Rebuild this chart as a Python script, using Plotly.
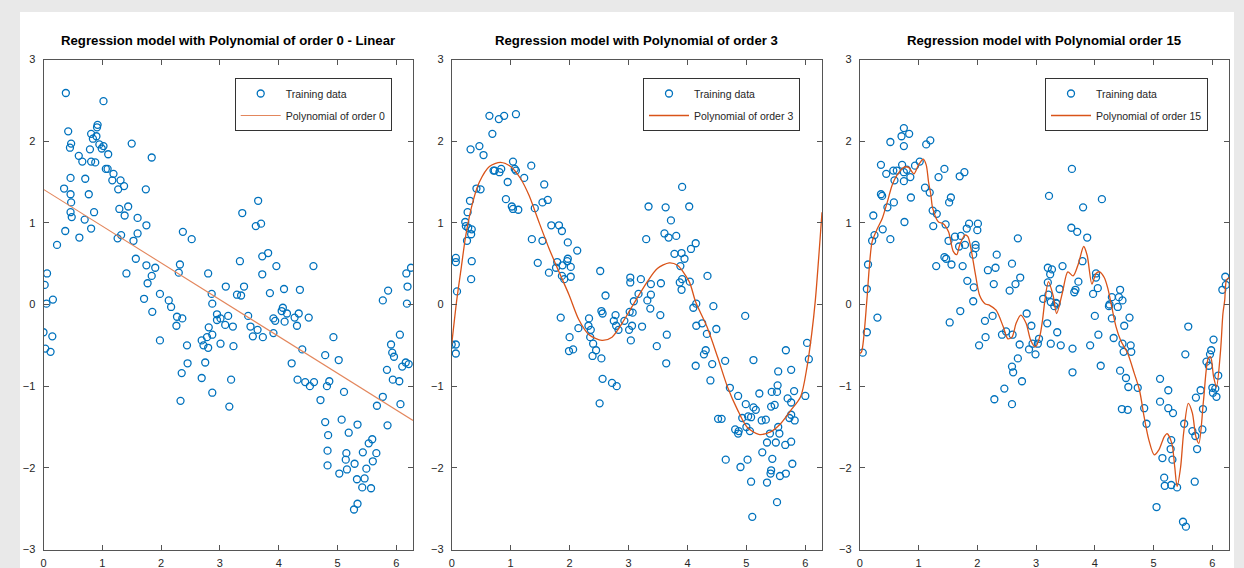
import numpy as np
import plotly.graph_objects as go

# ---------------- data ----------------
train1_x = [0.38,1.02,0.42,0.92,0.91,0.81,0.90,0.84,0.47,0.45,0.95,1.02,0.99,0.79,1.50,0.60,1.10,1.84,0.66,0.81,
            0.88,1.06,1.09,1.19,0.46,0.71,1.17,1.31,1.37,1.27,0.35,0.77,0.46,1.74,0.47,1.29,1.44,0.86,0.46,0.48,
            1.38,1.60,0.70,1.75,0.37,0.81,1.32,1.26,0.61,1.60,1.53,2.37,2.52,0.23,1.57,1.75,1.90,2.32,2.30,2.80,
            1.41,1.84,1.77,0.06,0.02,1.98,2.13,1.71,2.86,2.87,3.10,0.16,0.05,
            3.65,3.38,3.61,3.70,3.82,3.72,3.34,3.96,4.59,3.72,3.41,3.29,3.36,3.85,4.09,4.36,5.86,5.77,6.17,6.25,
            6.19,6.18,
            2.17,1.85,2.27,2.36,2.26,2.95,3.01,2.95,3.09,2.81,2.87,2.69,2.78,2.72,2.80,3.01,2.44,1.98,2.45,2.75,
            2.35,2.69,2.87,2.33,0.00,0.15,0.03,0.12,3.16,
            3.14,3.22,3.23,3.19,3.48,3.52,3.56,3.64,3.73,3.91,3.91,3.94,4.07,4.05,4.14,4.10,4.27,4.34,4.31,4.51,
            4.40,4.22,4.32,4.45,4.53,4.60,4.79,4.93,5.02,4.86,4.82,4.71,5.11,4.79,5.07,4.84,5.19,5.34,4.83,5.15,
            5.14,4.83,5.03,5.16,5.29,5.43,5.53,5.59,5.66,5.60,5.49,5.33,5.46,5.42,5.57,5.34,5.28,6.06,5.91,5.93,
            5.96,5.84,5.94,6.05,6.16,6.10,6.21,5.77,5.67,6.07,5.85]
train1_y = [2.59,2.49,2.12,2.20,2.17,2.09,2.06,2.03,1.97,1.92,1.96,1.94,1.91,1.90,1.97,1.82,1.84,1.80,1.75,1.75,
            1.74,1.66,1.66,1.60,1.55,1.54,1.52,1.52,1.45,1.41,1.42,1.35,1.35,1.41,1.25,1.17,1.20,1.13,1.13,1.07,
            1.09,1.06,1.04,0.97,0.90,0.93,0.85,0.81,0.82,0.87,0.78,0.89,0.80,0.73,0.56,0.48,0.45,0.49,0.39,0.38,
            0.38,0.35,0.26,0.38,0.24,0.13,0.05,0.07,0.13,0.01,0.22,0.06,0.01,
            1.27,1.12,0.96,0.99,0.63,0.59,0.53,0.47,0.47,0.37,0.22,0.12,0.11,0.14,0.19,0.18,0.17,0.05,0.38,0.45,
            0.22,0.01,
            -0.03,-0.09,-0.15,-0.17,-0.26,-0.12,-0.17,-0.19,-0.25,-0.28,-0.37,-0.44,-0.40,-0.50,-0.53,-0.48,-0.50,-0.44,-0.72,-0.71,
            -0.84,-0.90,-1.08,-1.18,-0.34,-0.39,-0.54,-0.58,-1.25,
            -0.14,-0.27,-0.51,-0.92,-0.14,-0.27,-0.39,-0.31,-0.40,-0.35,-0.17,-0.20,-0.04,-0.08,-0.11,-0.21,-0.16,-0.11,-0.26,-0.16,
            -0.55,-0.72,-0.92,-0.95,-1.00,-0.95,-0.62,-0.40,-0.68,-0.94,-1.00,-1.17,-1.07,-1.44,-1.41,-1.60,-1.57,-1.47,-1.79,-1.82,
            -1.90,-1.97,-2.07,-2.02,-1.95,-1.81,-1.70,-1.65,-1.82,-1.92,-2.01,-2.14,-2.13,-2.24,-2.25,-2.44,-2.51,-0.37,-0.49,-0.59,
            -0.64,-0.80,-0.92,-0.94,-0.71,-0.76,-0.73,-1.13,-1.24,-1.22,-1.48]

train2_x = [0.64,0.80,0.89,1.09,0.69,0.47,0.32,0.54,1.04,0.71,0.73,0.81,0.84,1.07,1.09,1.35,1.23,0.95,1.57,0.42,
            0.49,0.92,0.31,1.54,1.63,1.41,1.02,1.04,1.13,0.27,0.23,0.24,0.28,0.34,0.33,0.26,1.69,1.82,1.87,1.97,
            2.13,1.36,1.54,1.46,1.65,1.77,1.79,1.88,1.97,1.96,2.02,1.87,1.91,2.02,0.34,0.33,0.07,0.07,0.09,2.52,
            2.61,3.03,3.03,
            3.91,3.34,3.63,4.03,3.72,3.30,3.61,3.68,3.81,3.78,3.90,3.95,4.14,4.06,3.88,4.34,3.21,3.38,3.55,3.87,
            3.91,4.04,3.90,3.17,3.38,3.32,3.09,4.15,4.44,
            0.00,0.07,0.07,1.85,2.00,1.99,2.06,2.15,2.33,2.32,2.36,2.35,2.40,2.45,2.39,2.54,2.54,2.56,2.75,2.78,
            2.79,2.83,2.93,3.01,3.02,2.56,2.72,2.80,2.51,3.04,
            3.37,3.07,3.06,3.23,3.54,3.65,3.48,3.64,4.10,4.15,4.25,4.33,4.49,4.31,4.28,4.14,4.42,4.39,4.64,4.98,
            4.72,4.86,4.99,5.12,5.12,5.16,5.03,5.08,4.93,5.00,4.52,4.58,4.81,4.87,4.86,5.06,5.22,5.26,5.33,5.35,
            5.40,5.50,5.56,5.54,5.42,5.48,5.43,5.52,5.53,5.54,5.67,5.76,5.70,5.76,5.81,5.73,5.82,5.76,5.66,5.76,
            5.27,5.44,4.65,4.90,5.02,5.42,5.41,5.57,5.67,5.78,5.08,5.35,5.52,5.10,6.00,6.03,6.06]
train2_y = [2.31,2.27,2.31,2.33,2.09,1.94,1.90,1.83,1.75,1.64,1.64,1.62,1.66,1.66,1.64,1.70,1.55,1.50,1.47,1.42,
            1.41,1.29,1.27,1.25,1.28,1.18,1.20,1.17,1.16,1.13,1.01,0.96,0.94,0.92,0.86,0.78,0.97,0.97,0.90,0.76,
            0.66,0.80,0.78,0.51,0.39,0.45,0.52,0.48,0.56,0.53,0.46,0.35,0.31,0.34,0.53,0.31,0.57,0.52,0.16,0.41,
            0.11,0.33,0.27,
            1.44,1.20,1.19,1.20,1.03,0.80,0.87,0.82,0.84,0.62,0.63,0.56,0.75,0.68,0.47,0.35,0.31,0.25,0.26,0.27,
            0.31,0.28,0.18,0.13,0.12,0.05,0.04,0.01,-0.02,
            -0.49,-0.49,-0.60,-0.16,-0.40,-0.57,-0.55,-0.29,-0.17,-0.26,-0.31,-0.40,-0.48,-0.56,-0.63,-0.66,-0.08,-0.11,-0.20,-0.13,
            -0.26,-0.31,-0.20,-0.31,-0.09,-0.91,-0.96,-1.00,-1.21,-0.44,
            -0.05,-0.10,-0.26,-0.27,-0.13,-0.37,-0.51,-0.72,-0.04,-0.26,-0.23,-0.36,-0.30,-0.56,-0.61,-0.75,-0.73,-0.93,-0.69,-0.14,
            -1.02,-1.12,-1.22,-0.68,-1.26,-1.29,-1.37,-1.38,-1.39,-1.50,-1.40,-1.40,-1.53,-1.55,-1.58,-1.55,-1.09,-1.42,-1.41,-1.69,
            -1.58,-1.69,-1.58,-1.50,-1.25,-1.23,-1.07,-1.07,-0.99,-0.82,-0.56,-0.80,-1.15,-1.20,-1.06,-1.39,-1.42,-1.35,-1.72,-1.68,
            -1.81,-1.89,-1.90,-1.99,-1.90,-2.03,-2.07,-2.10,-2.07,-1.95,-2.17,-2.18,-2.42,-2.60,-1.12,-0.47,-0.67]

train3_x = [0.75,0.71,0.84,0.52,0.75,1.13,1.20,0.36,0.72,0.45,0.57,0.63,0.75,0.80,0.94,1.02,1.44,1.70,1.78,1.34,
            0.59,0.75,0.86,1.11,1.19,0.36,0.38,0.87,1.55,1.52,0.58,0.47,1.24,1.31,0.23,0.76,1.25,1.46,1.86,2.01,
            1.82,2.00,0.39,0.25,0.21,0.52,1.51,1.62,1.72,1.69,1.79,1.97,1.97,1.93,1.44,1.47,1.56,1.30,1.75,2.33,
            2.69,2.18,2.31,2.59,0.14,1.83,1.94,2.28,2.65,2.73,2.55,0.12,1.93,
            3.61,3.22,4.12,3.80,3.60,3.70,3.87,3.45,3.20,3.27,3.24,3.79,4.02,4.02,3.72,3.20,4.05,3.40,3.65,3.67,
            4.43,3.97,4.29,4.41,4.47,3.21,3.25,3.12,3.34,4.25,6.17,6.23,6.22,
            0.05,0.12,0.30,1.53,1.71,2.13,2.26,2.14,2.03,2.42,2.49,2.60,2.72,2.84,2.92,2.88,2.94,2.99,3.03,3.05,
            2.69,2.59,2.61,2.76,2.46,2.29,2.59,
            3.31,3.35,3.19,3.36,3.25,3.42,3.62,3.62,4.00,4.06,3.92,4.10,4.24,4.39,4.29,4.59,4.50,4.32,4.47,4.61,
            4.49,4.62,4.43,4.53,4.57,4.73,4.46,4.56,4.84,4.88,5.11,5.25,5.11,5.25,5.33,5.59,5.54,5.52,5.30,5.29,
            5.32,5.15,5.18,5.19,5.30,5.40,5.70,5.05,5.50,5.55,5.66,5.71,5.74,5.83,5.84,5.72,5.80,5.90,5.94,5.96,
            5.98,6.02,6.00,6.01,6.07,6.05,6.10]
train3_y = [2.16,2.06,2.09,1.99,1.94,1.96,2.01,1.71,1.71,1.60,1.64,1.64,1.62,1.65,1.70,1.75,1.66,1.57,1.62,1.56,
            1.52,1.51,1.56,1.43,1.37,1.35,1.33,1.31,1.31,1.25,1.25,1.19,1.15,1.11,1.09,1.01,0.96,0.98,0.99,0.99,
            0.93,0.91,0.92,0.85,0.78,0.80,0.78,0.83,0.84,0.71,0.73,0.73,0.69,0.61,0.58,0.56,0.49,0.47,0.47,0.61,
            0.81,0.42,0.45,0.50,0.49,0.29,0.21,0.25,0.25,0.33,0.17,0.19,0.04,
            1.66,1.33,1.29,1.19,0.94,0.89,0.82,0.47,0.45,0.43,0.37,0.53,0.38,0.33,0.28,0.27,0.20,0.19,0.15,0.18,
            0.18,0.13,0.09,0.09,0.05,0.12,0.03,0.07,0.02,0.00,0.18,0.24,0.34,
            -0.59,-0.34,-0.16,-0.22,-0.08,-0.20,-0.14,-0.40,-0.50,-0.37,-0.33,-0.37,-0.49,-0.11,-0.26,-0.55,-0.48,-0.61,-0.48,-0.42,
            -0.66,-0.76,-0.83,-0.94,-1.03,-1.16,-1.22,
            -0.02,0.01,-0.23,-0.34,-0.48,-0.50,-0.54,-0.83,-0.14,-0.37,-0.50,-0.75,-0.02,-0.03,-0.17,-0.16,-0.26,-0.41,-0.48,-0.50,
            -0.58,-0.58,-0.81,-0.90,-1.01,-1.02,-1.28,-1.29,-1.27,-1.46,-0.91,-1.05,-1.19,-1.27,-1.33,-0.27,-0.61,-1.46,-1.66,-1.77,
            -1.90,-1.88,-2.12,-2.22,-2.21,-2.24,-2.17,-2.48,-2.66,-2.72,-1.55,-1.61,-1.77,-1.53,-1.28,-1.14,-1.05,-0.70,-0.75,-0.61,
            -0.56,-0.43,-1.02,-1.08,-1.13,-1.03,-0.87]

fit1_x = [0.0, 6.2832]
fit1_y = [1.41, -1.42]

fit2_x = [0.00,0.085,0.16,0.24,0.36,0.47,0.64,0.83,1.00,1.17,1.31,1.48,1.65,1.82,1.99,2.16,2.33,2.55,2.72,2.89,
          3.09,3.32,3.49,3.69,3.83,4.03,4.14,4.33,4.51,4.68,4.85,5.01,5.21,5.41,5.58,5.75,5.92,6.03,6.11,6.17,6.2832]
fit2_y = [-0.49,0.05,0.44,0.85,1.26,1.50,1.69,1.74,1.69,1.54,1.34,1.01,0.69,0.40,0.12,-0.19,-0.37,-0.44,-0.40,-0.23,
          0.01,0.28,0.44,0.51,0.48,0.28,0.03,-0.27,-0.64,-1.01,-1.29,-1.50,-1.59,-1.56,-1.46,-1.30,-1.13,-0.76,-0.35,0.05,1.13]

fit3_x = [0.00,0.03,0.12,0.16,0.21,0.30,0.38,0.47,0.55,0.63,0.75,0.83,0.92,1.00,1.08,1.13,1.17,1.21,1.24,1.34,
          1.42,1.51,1.59,1.65,1.70,1.79,1.84,1.90,1.97,2.04,2.13,2.21,2.32,2.44,2.52,2.59,2.66,2.74,2.83,2.91,
          2.99,3.06,3.11,3.15,3.21,3.29,3.35,3.45,3.54,3.63,3.72,3.81,3.87,3.95,4.02,4.08,4.16,4.22,4.28,4.36,
          4.44,4.56,4.67,4.76,4.84,4.92,5.01,5.09,5.18,5.23,5.31,5.36,5.40,5.46,5.51,5.59,5.66,5.72,5.77,5.85,
          5.93,5.97,6.02,6.07,6.14,6.18,6.21,6.24,6.2832]
fit3_y = [-0.60,-0.58,0.05,0.44,0.77,0.93,1.05,1.26,1.46,1.58,1.68,1.68,1.60,1.71,1.78,1.71,1.50,1.34,1.18,1.01,
          0.99,0.89,0.65,0.61,0.73,0.85,0.83,0.65,0.36,0.11,0.01,-0.01,-0.07,-0.27,-0.42,-0.40,-0.23,-0.13,-0.23,-0.44,
          -0.52,-0.40,-0.19,0.05,0.28,0.11,-0.11,0.15,0.40,0.35,0.50,0.71,0.60,0.25,0.38,0.40,0.33,0.20,0.00,-0.27,
          -0.44,-0.60,-0.84,-1.05,-1.38,-1.66,-1.84,-1.78,-1.62,-1.58,-1.70,-1.99,-2.23,-1.99,-1.58,-1.21,-1.33,-1.62,-1.70,-1.17,
          -0.66,-0.64,-0.88,-1.01,-0.56,-0.11,0.05,0.30,0.33]

titles = ["Regression model with Polynomial of order 0 - Linear",
          "Regression model with Polynomial of order 3",
          "Regression model with Polynomial order 15"]
fit_names = ["Polynomial of order 0", "Polynomial of order 3", "Polynomial of order 15"]
x_ticks = [0, 1, 2, 3, 4, 5, 6]
y_ticks = [-3, -2, -1, 0, 1, 2, 3]

# ---------------- layout helpers ----------------
W, H = 1244, 568
def fx(p):
    return p / W
def fy(p):
    return 1 - p / H

BLUE = "#0072BD"
ORANGE = "#D95319"
ORANGE_LIGHT = "#E3865C"
AXC = "#555555"
FONT = "Liberation Sans, Arial, Helvetica, sans-serif"

x_domains = [(43.5, 413.0), (451.7, 822.0), (859.8, 1229.0)]
y_dom = [fy(549.5), fy(59.5)]
legend_right = [391.7, 800.0, 1208.0]
legend_top = 78.0

fig = go.Figure()
trains = [(train1_x, train1_y), (train2_x, train2_y), (train3_x, train3_y)]
fits = [(fit1_x, fit1_y), (fit2_x, fit2_y), (fit3_x, fit3_y)]

layout = dict(
    width=W, height=H,
    margin=dict(l=0, r=0, t=0, b=0, autoexpand=False),
    paper_bgcolor="#e9e9e9",
    plot_bgcolor="white",
    font=dict(family=FONT, size=11, color="#262626"),
    showlegend=True,
    shapes=[dict(type="rect", xref="paper", yref="paper", x0=fx(20), x1=fx(1234), y0=0, y1=fy(12),
                 fillcolor="white", line=dict(width=0), layer="below")],
    annotations=[],
)

for i in range(3):
    sfx = "" if i == 0 else str(i + 1)
    xa = "x" + sfx
    ya = "y" + sfx
    leg = "legend" + sfx
    tx, ty = trains[i]
    fxv, fyv = fits[i]
    fig.add_trace(go.Scatter(
        x=tx, y=ty, mode="markers", name="Training data", legendgroup="t%d" % i,
        marker=dict(symbol="circle-open", size=7, color=BLUE, line=dict(width=1.3, color=BLUE)),
        xaxis=xa, yaxis=ya, legend=leg))
    fig.add_trace(go.Scatter(
        x=fxv, y=fyv, mode="lines", name=fit_names[i], legendgroup="f%d" % i,
        line=dict(color=ORANGE_LIGHT if i == 0 else ORANGE, width=1.1 if i == 0 else 1.3,
                  shape="spline" if i > 0 else "linear", smoothing=0.8),
        xaxis=xa, yaxis=ya, legend=leg))

    d0, d1 = x_domains[i]
    axcommon = dict(showline=True, linecolor=AXC, linewidth=1, mirror="ticks",
                    ticks="inside", ticklen=5, tickcolor=AXC, tickwidth=1,
                    showgrid=False, zeroline=False, automargin=False,
                    tickfont=dict(family=FONT, size=11, color="#262626"))
    layout["xaxis" + sfx] = dict(domain=[fx(d0), fx(d1)], range=[0, 2 * np.pi],
                                 tickvals=x_ticks, anchor=ya, ticklabelstandoff=3, **axcommon)
    layout["yaxis" + sfx] = dict(domain=y_dom, range=[-3, 3], tickvals=y_ticks,
                                 anchor=xa, ticklabelstandoff=5, **axcommon)
    layout[leg] = dict(x=fx(legend_right[i]), y=fy(legend_top), xanchor="right", yanchor="top",
                       xref="paper", yref="paper",
                       bgcolor="white", bordercolor="#333333", borderwidth=1,
                       font=dict(family=FONT, size=10.5, color="#262626"),
                       itemwidth=40, tracegroupgap=3)
    layout["annotations"].append(dict(
        text=titles[i], x=fx((d0 + d1) / 2), y=fy(40), xref="paper", yref="paper",
        xanchor="center", yanchor="middle", showarrow=False,
        font=dict(family=FONT, size=13.2, color="#000000", weight="bold")))

fig.update_layout(**layout)
fig.write_html("out.html", config={"displayModeBar": False},
               post_script="document.body.style.margin='0px';document.body.style.overflow='hidden';")
